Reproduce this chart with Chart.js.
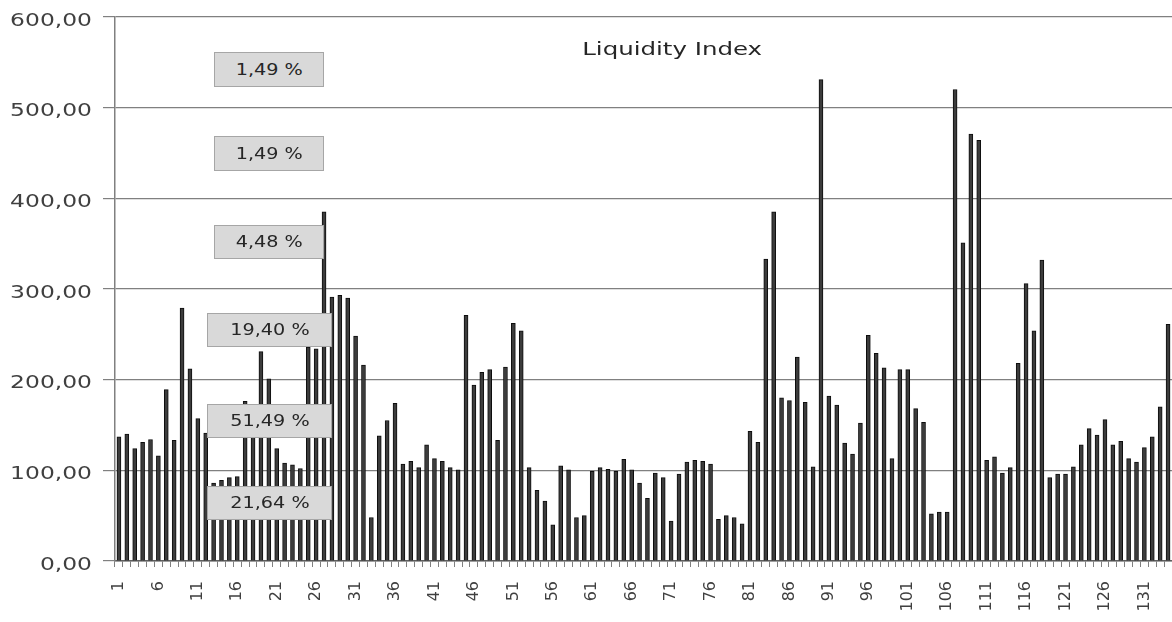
<!DOCTYPE html>
<html><head><meta charset="utf-8">
<script src="https://cdn.jsdelivr.net/npm/chart.js@4.4.0/dist/chart.umd.min.js"></script>
<style>
html,body{margin:0;padding:0;background:#fff;}
#wrap{position:relative;width:1172px;height:622px;overflow:hidden;background:#fff;}
canvas{position:absolute;left:0;top:0;}
.box{position:absolute;background:#d9d9d9;border:1px solid #a6a6a6;box-sizing:border-box;display:flex;align-items:center;justify-content:center;font-family:"DejaVu Sans";font-size:15px;color:#262626;}
.box span{display:inline-block;transform:scaleX(1.28);}
#title{position:absolute;left:522px;width:300px;top:38px;text-align:center;font-family:"DejaVu Sans";font-size:18px;color:#262626;}
#title span{display:inline-block;transform:scaleX(1.36);}
</style></head>
<body>
<div id="wrap">
<canvas id="c" width="1172" height="622"></canvas>
<div id="title"><span>Liquidity Index</span></div>
</div>
<script>
const categories = ['1','2','3','4','5','6','7','8','9','10','11','12','13','14','15','16','17','18','19','20',
'21','22','23','24','25','26','27','28','29','30','31','32','33','34','35','36','37','38','39','40',
'41','42','43','44','45','46','47','48','49','50','51','52','53','54','55','56','57','58','59','60',
'61','62','63','64','65','66','67','68','69','70','71','72','73','74','75','76','77','78','79','80',
'81','82','83','84','85','86','87','88','89','90','91','92','93','94','95','96','97','98','99','100',
'101','102','103','104','105','106','107','108','109','110','111','112','113','114','115','116','117','118','119','120',
'121','122','123','124','125','126','127','128','129','130','131','132','133','134'];

const liquidityIndex = [
137,140,124,131,134,116,189,133,279,212,
157,141,86,89,92,93,176,150,231,201,
124,108,106,102,236,234,385,291,293,290,
248,216,48,138,155,174,107,110,103,128,
113,110,103,100.5,271,194,208,211,133,214,
262,254,103,78,66,40,105,100.5,48,50,
99,103,101,99,112,100.5,86,69,97,92,
44,96,109,111,110,107,46,50,48,41,
143,131,333,385,180,177,225,175,104,531,
182,172,130,118,152,249,229,213,113,211,
211,168,153,52,54,54,520,351,471,464,
111,115,97,103,218,306,254,332,92,96,
96,104,128,146,139,156,128,132,113,109,
125,137,170,261];

const xTickLabels = ['1','6','11','16','21','26','31','36','41','46','51','56','61','66','71','76','81','86','91','96','101','106','111','116','121','126','131'];
const yTickValues = [0,100,200,300,400,500,600];
const yTickLabels = ['0,00','100,00','200,00','300,00','400,00','500,00','600,00'];
const bandShares = ['1,49 %','1,49 %','4,48 %','19,40 %','51,49 %','21,64 %'];

// annotation boxes (layout only)
const boxLayout = [
  {l:214,t:52,w:110,h:35},
  {l:214,t:136,w:110,h:35},
  {l:214,t:225,w:110,h:34},
  {l:207,t:313,w:125,h:34},
  {l:207,t:404,w:125,h:34},
  {l:207,t:486,w:125,h:34}
];
const wrap = document.getElementById('wrap');
bandShares.forEach((txt,i)=>{
  const b = boxLayout[i];
  const d = document.createElement('div');
  d.className='box';
  d.style.left=b.l+'px'; d.style.top=b.t+'px'; d.style.width=b.w+'px'; d.style.height=b.h+'px';
  const s=document.createElement('span'); s.textContent=txt; d.appendChild(s);
  wrap.appendChild(d);
});

// stretch y tick labels horizontally around their right-aligned anchor
const stretchY = {
  id:'stretchY',
  beforeDraw(chart){
    const s = chart.scales.y;
    if (s && !s._stretched){
      const orig = s.drawLabels.bind(s);
      s.drawLabels = function(area){
        const ctx = this.ctx;
        const ax = this.right - this.options.grid.tickLength - this.options.ticks.padding;
        ctx.save();
        ctx.translate(ax,0); ctx.scale(1.3,1); ctx.translate(-ax,0);
        orig(area);
        ctx.restore();
      };
      s._stretched = true;
    }
  }
};

new Chart(document.getElementById('c'), {
  type:'bar',
  data:{
    labels:categories,
    datasets:[{
      data:liquidityIndex,
      backgroundColor:'#3c3c3c',
      borderColor:'#0d0d0d',
      borderWidth:1,
      barThickness:4
    }]
  },
  options:{
    responsive:false,
    animation:false,
    devicePixelRatio:1,
    layout:{padding:{top:17,left:0,right:0,bottom:0}},
    plugins:{legend:{display:false},tooltip:{enabled:false},title:{display:false}},
    scales:{
      x:{
        offset:true,
        grid:{display:true,drawOnChartArea:false,drawTicks:true,tickLength:6,color:'#808080',offset:true},
        border:{display:true,color:'#606060',width:1.5},
        ticks:{
          autoSkip:false,maxRotation:90,minRotation:90,padding:14,
          color:'#404040',font:{family:'DejaVu Sans',size:16},
          callback:function(v,i){ const c=categories[i]; return xTickLabels.includes(c)?c:''; }
        },
        afterFit:function(s){ s.height=61; s.paddingLeft=0; s.paddingRight=0; }
      },
      y:{
        min:0,max:600,
        grid:{color:'#808080',lineWidth:1.2,drawTicks:true,tickLength:12},
        border:{display:true,color:'#808080',width:1.5},
        ticks:{
          stepSize:100,padding:11,labelOffset:4,
          color:'#404040',font:{family:'DejaVu Sans',size:18},
          callback:function(v){ const k=yTickValues.indexOf(v); return k>=0?yTickLabels[k]:''; }
        },
        afterFit:function(s){ s.width=115; s.paddingTop=0; s.paddingBottom=0; }
      }
    }
  },
  plugins:[stretchY]
});
</script>
</body></html>
